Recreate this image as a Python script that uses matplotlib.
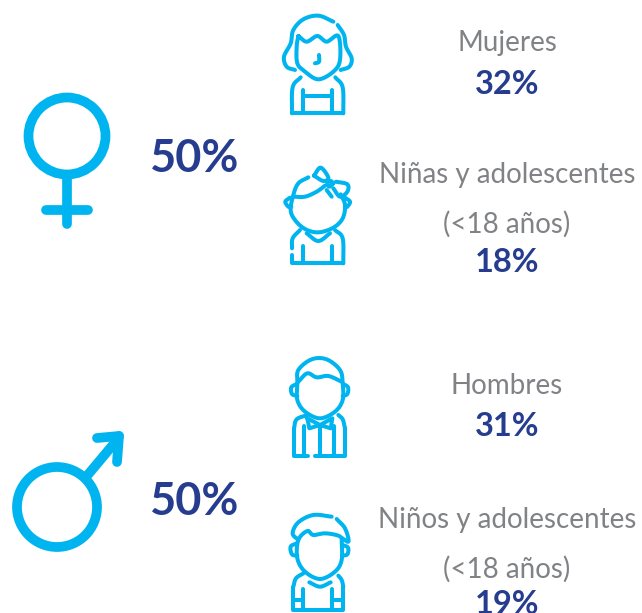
import numpy as np
import matplotlib
matplotlib.use("Agg")
import matplotlib.pyplot as plt
import matplotlib.patches as patches

W, H = 642, 613
BLUE = "#00B5EF"
NAVY = "#263D8F"
GREY = "#808285"

# Data
totals = ["50%", "50%"]
groups = ["Mujeres", "Niñas y adolescentes\n(<18 años)", "Hombres", "Niños y adolescentes\n(<18 años)"]
shares = ["32%", "18%", "31%", "19%"]

plt.rcParams['font.family'] = ['Lato', 'DejaVu Sans']
fig = plt.figure(figsize=(W / 100, H / 100), dpi=100)
ax = fig.add_axes([0, 0, 1, 1])
ax.set_xlim(0, W)
ax.set_ylim(H, 0)
ax.axis('off')


def smooth(pts, n=12):
    # catmull-rom through the points so the icons dont look polygonal
    pts = np.array(pts, dtype=float)
    p = np.vstack([2 * pts[0] - pts[1], pts, 2 * pts[-1] - pts[-2]])
    out = []
    for i in range(1, len(p) - 2):
        for t in np.linspace(0, 1, n, endpoint=False):
            a = 2 * p[i]
            b = (p[i + 1] - p[i - 1]) * t
            c = (2 * p[i - 1] - 5 * p[i] + 4 * p[i + 1] - p[i + 2]) * t ** 2
            d = (3 * p[i] - p[i - 1] - 3 * p[i + 1] + p[i + 2]) * t ** 3
            out.append(0.5 * (a + b + c + d))
    out.append(p[-2])
    return np.array(out)


def stroke(pts, origin, curved=True, lw=2.9):
    # pts are in 3x zoom coordinates of the icon crop
    xy = smooth(pts) if curved else np.array(pts, dtype=float)
    xs = origin[0] + xy[:, 0] / 3
    ys = origin[1] + xy[:, 1] / 3
    ax.plot(xs, ys, color=BLUE, lw=lw, solid_capstyle='round', solid_joinstyle='round')


# Venus
ax.add_patch(patches.Circle((67, 136), 38.5, fill=False, ec=BLUE, lw=7))
ax.plot([67, 67], [176, 224], color=BLUE, lw=7, solid_capstyle='round')
ax.plot([46, 88], [210, 210], color=BLUE, lw=7, solid_capstyle='round')

# Mars
ax.add_patch(patches.Circle((57, 507), 40, fill=False, ec=BLUE, lw=7))
ax.plot([86, 117], [477, 440], color=BLUE, lw=7, solid_capstyle='round')
ax.plot([97, 119], [438, 436], color=BLUE, lw=7, solid_capstyle='round')
ax.plot([119, 117], [436, 462], color=BLUE, lw=7, solid_capstyle='round')

# Woman
o = (270, 0)
stroke([(190, 65), (145, 47), (100, 58), (70, 90), (62, 130), (42, 170), (50, 200), (75, 210)], o)
stroke([(203, 75), (222, 105), (228, 140), (245, 175), (238, 200), (212, 210)], o)
stroke([(85, 108), (110, 125), (142, 108), (170, 125), (205, 108), (210, 180), (190, 215), (145, 238), (105, 215), (82, 190), (80, 140), (85, 108)], o)
stroke([(147, 165), (147, 185), (135, 190)], o)
stroke([(92, 232), (68, 262), (66, 340)], o)
stroke([(196, 232), (218, 262), (220, 340)], o)
stroke([(66, 340), (220, 340)], o, curved=False)
stroke([(100, 270), (100, 338)], o, curved=False)
stroke([(187, 270), (187, 338)], o, curved=False)
stroke([(100, 288), (187, 288)], o, curved=False)

# Girl
o = (270, 155)
stroke([(115, 67), (85, 85), (70, 120), (62, 165), (75, 195), (105, 222), (145, 232), (190, 218), (218, 190), (225, 150), (212, 118)], o)
stroke([(70, 125), (105, 125), (140, 110), (165, 92)], o)
stroke([(60, 128), (46, 140), (55, 155), (64, 155)], o)
stroke([(225, 128), (240, 140), (232, 155), (225, 155)], o)
stroke([(132, 62), (152, 38), (175, 68), (160, 78), (132, 62)], o)
stroke([(190, 85), (178, 95), (172, 85), (182, 78), (190, 85)], o)
stroke([(198, 80), (232, 88), (232, 110), (210, 125), (190, 100)], o)
stroke([(170, 105), (185, 125)], o, curved=False)
stroke([(90, 225), (68, 250), (66, 280)], o)
stroke([(195, 225), (218, 250), (220, 325)], o)
stroke([(110, 235), (145, 258), (180, 235)], o)
stroke([(66, 300), (66, 325), (220, 325)], o, curved=False)
stroke([(100, 272), (100, 322)], o, curved=False)
stroke([(187, 272), (187, 322)], o, curved=False)

# Man
o = (270, 350)
stroke([(82, 100), (85, 60), (125, 28), (170, 28), (210, 60), (218, 100), (218, 150), (195, 185), (150, 205), (105, 185), (82, 150), (82, 100)], o)
stroke([(85, 95), (112, 70), (140, 82), (175, 78), (215, 95)], o)
stroke([(80, 102), (64, 112), (66, 132), (82, 138)], o)
stroke([(220, 102), (234, 112), (232, 132), (218, 138)], o)
stroke([(112, 195), (80, 208), (72, 235)], o)
stroke([(205, 195), (218, 208), (225, 235)], o)
stroke([(72, 235), (72, 318), (115, 318)], o, curved=False)
stroke([(225, 235), (225, 318), (135, 318)], o, curved=False)
stroke([(112, 205), (150, 225), (187, 205), (182, 235), (150, 225), (118, 235), (112, 205)], o, curved=False)
stroke([(102, 228), (102, 316)], o, curved=False)
stroke([(192, 228), (192, 316)], o, curved=False)
stroke([(150, 228), (150, 316)], o, curved=False)

# Boy
o = (270, 505)
stroke([(185, 35), (130, 30), (85, 52), (68, 85), (85, 105)], o)
stroke([(200, 42), (225, 70), (235, 110), (205, 92), (165, 85), (130, 90), (112, 78), (85, 105), (82, 160), (105, 200), (150, 222), (195, 200), (215, 165), (215, 105)], o)
stroke([(80, 115), (62, 125), (66, 148), (82, 152)], o)
stroke([(218, 120), (234, 128), (232, 148), (216, 152)], o)
stroke([(100, 205), (78, 220), (70, 245)], o)
stroke([(205, 212), (215, 225), (220, 245)], o)
stroke([(70, 245), (70, 315), (220, 315), (220, 245)], o, curved=False)
stroke([(118, 232), (150, 245), (182, 232)], o)
stroke([(100, 252), (100, 314)], o, curved=False)
stroke([(187, 252), (187, 314)], o, curved=False)
stroke([(72, 285), (100, 285)], o, curved=False)
stroke([(187, 285), (218, 285)], o, curved=False)

# Totals
ax.text(195, 159, totals[0], color=NAVY, fontsize=32.5, fontweight='bold', ha='center', va='center')
ax.text(195, 502, totals[1], color=NAVY, fontsize=32.5, fontweight='bold', ha='center', va='center')

# Group labels and shares
label_y = [43, 175, 386, 520]
share_y = [85, 262, 427, 605]
for g, s, ly, sy in zip(groups, shares, label_y, share_y):
    lines = g.split("\n")
    ax.text(507, ly, lines[0], color=GREY, fontsize=20, ha='center', va='center')
    if len(lines) > 1:
        ax.text(507, ly + 49, lines[1], color=GREY, fontsize=20, ha='center', va='center')
    ax.text(507, sy, s, color=NAVY, fontsize=23.5, fontweight='bold', ha='center', va='center')

plt.savefig("out.png", dpi=100)
plt.close()
